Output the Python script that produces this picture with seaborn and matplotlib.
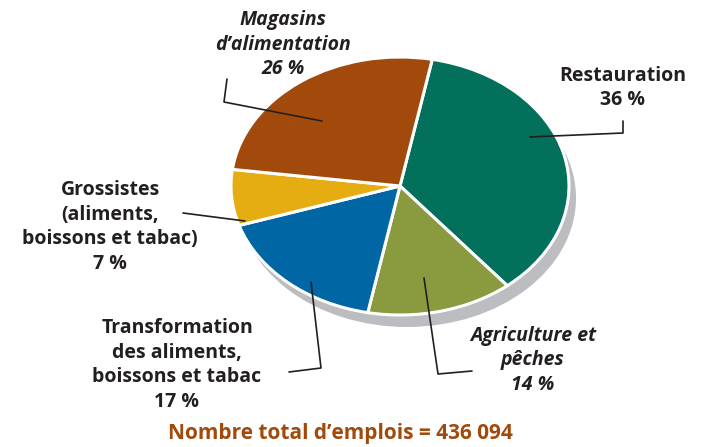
import matplotlib
matplotlib.use("Agg")
import matplotlib.pyplot as plt
import seaborn as sns

# data
sectors = ["Restauration", "Agriculture et\npêches", "Transformation\ndes aliments,\nboissons et tabac",
           "Grossistes\n(aliments,\nboissons et tabac)", "Magasins\nd\u2019alimentation"]
shares = [36, 14, 17, 7, 26]
colors = ["#02705a", "#8a9a3f", "#0066a4", "#e6ad12", "#a24a0c"]
italic = [False, True, False, False, True]
total_label = "Nombre total d\u2019emplois = 436 094"

sns.set_theme(style="white")
plt.rcParams["font.family"] = ["Open Sans", "DejaVu Sans"]

W, H = 719, 447
fig = plt.figure(figsize=(W / 100, H / 100), dpi=100)

# pie geometry in pixels
cx, cy, rx, ry = 400, 186, 169, 129
box = (200, 40, 600, 345)  # left, top, right, bottom in px
ax = fig.add_axes([box[0] / W, 1 - box[3] / H, (box[2] - box[0]) / W, (box[3] - box[1]) / H])

# shadow, then the slices
ax.pie([1], colors=["#bcbdc0"], radius=1.0, center=(7 / rx, -12 / ry),
       wedgeprops=dict(linewidth=0), frame=True)
ax.pie(shares, colors=colors, radius=1.0, startangle=79, counterclock=False,
       wedgeprops=dict(edgecolor="white", linewidth=2.2), frame=True)
ax.set_aspect("auto")
ax.set_xlim((box[0] - cx) / rx, (box[2] - cx) / rx)
ax.set_ylim((cy - box[3]) / ry, (cy - box[1]) / ry)
ax.axis("off")

# overlay in pixel coordinates for labels
ov = fig.add_axes([0, 0, 1, 1])
ov.set_xlim(0, W)
ov.set_ylim(H, 0)
ov.axis("off")

label_pos = [(623, 88), (533, 360), (177, 365), (110, 227), (283, 45)]
leaders = [
    [(530, 137), (623, 133), (623, 121)],
    [(424, 278), (438, 374), (472, 371)],
    [(311, 282), (321, 368), (289, 372)],
    [(183, 213), (245, 221)],
    [(322, 121), (224, 102), (227, 79)],
]

tc = "#231f20"
for name, val, pos, it, pts in zip(sectors, shares, label_pos, italic, leaders):
    ov.text(pos[0], pos[1], f"{name}\n{val} %", ha="center", va="center",
            fontsize=14, fontweight="bold", color=tc,
            style="italic" if it else "normal", linespacing=1.3)
    xs, ys = zip(*pts)
    ov.plot(xs, ys, color=tc, linewidth=1.2)

ov.text(340, 434, total_label, ha="center", va="center", fontsize=15,
        fontweight="bold", color="#a24a0c")

fig.savefig("out.png", dpi=100)
